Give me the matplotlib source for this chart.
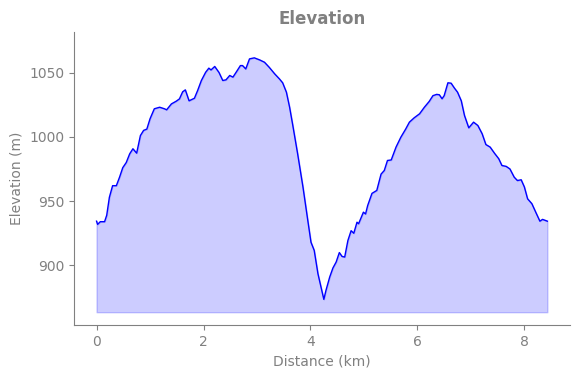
import numpy as np
import matplotlib.pyplot as plt

# profile (km, m)
dist_km = [0.0, 0.02, 0.07, 0.15, 0.19, 0.24, 0.30, 0.37, 0.43, 0.49, 0.555, 0.62, 0.68, 0.75,
           0.82, 0.88, 0.94, 1.0, 1.08, 1.18, 1.27, 1.31, 1.40, 1.49, 1.55, 1.61, 1.66, 1.73,
           1.83, 1.89, 1.96, 2.04, 2.10, 2.14, 2.21, 2.29, 2.36, 2.42, 2.49, 2.55, 2.61, 2.69,
           2.73, 2.79, 2.86, 2.95, 3.05, 3.14, 3.23, 3.33, 3.42, 3.48, 3.55, 3.61, 3.67, 3.76,
           3.86, 3.95, 4.01, 4.07, 4.14, 4.25, 4.29, 4.36, 4.42, 4.48, 4.54, 4.59, 4.64, 4.70,
           4.76, 4.81, 4.87, 4.90, 4.99, 5.03, 5.07, 5.15, 5.24, 5.32, 5.38, 5.44, 5.51, 5.60,
           5.69, 5.78, 5.85, 5.94, 6.04, 6.13, 6.22, 6.29, 6.36, 6.41, 6.46, 6.50, 6.57, 6.63,
           6.69, 6.75, 6.82, 6.88, 6.96, 7.05, 7.13, 7.21, 7.28, 7.36, 7.44, 7.52, 7.58, 7.66,
           7.73, 7.81, 7.87, 7.94, 8.0, 8.06, 8.14, 8.22, 8.29, 8.34, 8.43]
elev_m = [934.4, 931.9, 934, 934, 939, 953, 962, 962, 968.6, 976, 980, 986.8, 990.7, 987.3,
          1001, 1005, 1006, 1014, 1021.8, 1023, 1021.8, 1021, 1025.6, 1027.7, 1029.5, 1035, 1036.5, 1028,
          1030, 1036, 1043.8, 1050.2, 1053.4, 1052, 1054.7, 1050, 1043.8, 1044.3, 1047.7, 1046.4, 1050.2, 1055.4,
          1055.4, 1052.8, 1060.6, 1061.4, 1059.8, 1058, 1054, 1049, 1045, 1042, 1034.7, 1023, 1008.8, 986.8,
          960.9, 935, 918, 911.7, 893.5, 873.6, 880.6, 891, 898, 902.6, 910, 907, 906.5, 919.4,
          927, 925, 933.6, 932.4, 941.4, 940, 946.6, 956, 958.3, 971, 973.8, 981.6, 982, 992,
          999.7, 1006, 1011.4, 1014.8, 1017.9, 1023, 1027.5, 1032, 1033, 1032.7, 1029.6, 1032, 1042, 1041.7,
          1038, 1034.7, 1028, 1016.6, 1007, 1011.4, 1008.8, 1002.4, 994, 992, 987.3, 983, 977.7, 977,
          975, 968.6, 966, 966.6, 961, 951.8, 948, 940.7, 934.4, 935.8, 934.4]

x = np.array(dist_km)
y = np.array(elev_m)
grey = '#808080'

fig = plt.figure(figsize=(5.8, 3.78), dpi=100)
ax = fig.add_axes([0.1276, 0.14, 0.855, 0.775])

ax.plot(x, y, color='blue', lw=1)
ax.fill_between(x, y, y.min() - 10, color='blue', alpha=0.2)
ax.set_ylim(y.min() - 20, y.max() + 20)

ax.set_title('Elevation', color=grey, fontweight='bold', fontsize=12)
ax.set_xlabel('Distance (km)', color=grey)
ax.set_ylabel('Elevation (m)', color=grey)
ax.tick_params(colors=grey)
for s in ['top', 'right']:
    ax.spines[s].set_visible(False)
for s in ['left', 'bottom']:
    ax.spines[s].set_color(grey)

fig.savefig('out.png')
